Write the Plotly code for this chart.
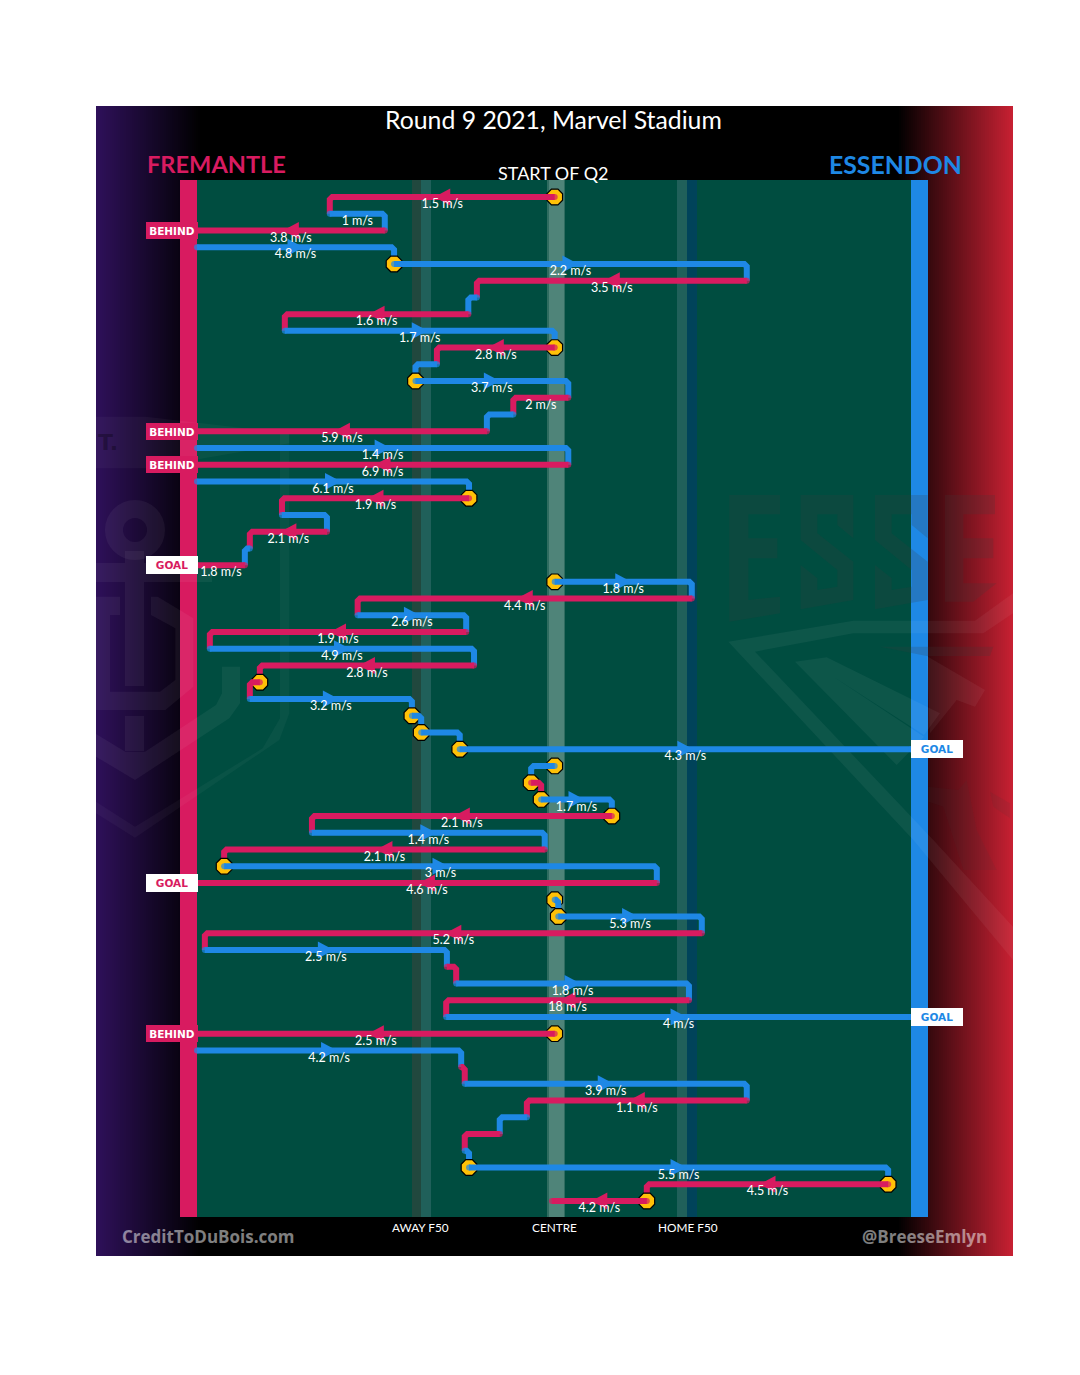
import plotly.graph_objects as go

# ---------- data: one entry per passage of play, top to bottom ----------
# x positions are in percent of the ground, 0 = Fremantle goal, 100 = Essendon goal
teams = list("FEFEEFEFEFEEFEFEFEFEFEFEFEFEFFEEEEEFEFEFEFEEFEFEFEFEFEFEFEEFF")
start_pos = [50.1, 18.6, 26.3, 0, 27.6, 77.0, 39.2, 38.0, 12.3, 50.1, 33.6, 30.6, 52.0, 44.3, 40.6,
             0, 52.0, 0, 38.1, 11.9, 18.2, 7.4, 6.7, 50.1, 69.3, 22.5, 37.7, 1.8, 38.8, 8.8,
             7.4, 30.1, 31.4, 36.8, 50.1, 46.8, 48.2, 58.1, 16.1, 48.7, 3.8, 64.4, 50.1, 50.6, 70.7,
             1.1, 35.0, 36.3, 68.9, 34.9, 50.1, 0, 37.0, 37.5, 77.0, 46.2, 42.4, 37.5, 38.1, 96.8, 63.0]
end_pos = [18.6, 26.3, 0, 27.6, 77.0, 39.2, 38.0, 12.3, 50.1, 33.6, 30.6, 52.0, 44.3, 40.6, 0,
           52.0, 0, 38.1, 11.9, 18.2, 7.4, 6.7, 0, 69.3, 22.5, 37.7, 1.8, 38.8, 8.8, 7.4,
           30.1, 31.4, 36.8, 100, 46.8, 48.2, 58.1, 16.1, 48.7, 3.8, 64.4, 0, 50.6, 70.7, 1.1,
           35.0, 36.3, 68.9, 34.9, 100, 0, 37.0, 37.5, 77.0, 46.2, 42.4, 37.5, 38.1, 96.8, 63.0, 49.7]
speeds = [1.5, 1, 3.8, 4.8, 2.2, 3.5, None, 1.6, 1.7, 2.8, None, 3.7, 2, None, 5.9, 1.4, 6.9, 6.1, 1.9,
          None, 2.1, None, 1.8, 1.8, 4.4, 2.6, 1.9, 4.9, 2.8, None, 3.2, None, None, 4.3, None, None,
          1.7, 2.1, 1.4, 2.1, 3, 4.6, None, 5.3, 5.2, 2.5, None, 1.8, 18, 4, 2.5, 4.2, None, 3.9, 1.1,
          None, None, None, 5.5, 4.5, 4.2]
stoppage_rows = [0, 4, 9, 11, 18, 23, 29, 31, 32, 33, 34, 35, 36, 37, 40, 42, 43, 50, 58, 59, 60]
behind_rows = [2, 14, 16, 50]
goal_rows = [22, 33, 41, 49]
zone_labels = ["AWAY F50", "CENTRE", "HOME F50"]

TITLE = "Round 9 2021, Marvel Stadium"
SUBTITLE = "START OF Q2"
RED, BLUE = "#d81b60", "#1e88e5"
COL = {"F": RED, "E": BLUE}
UI = "Lato"

# ---------- scales: data units <-> page pixels ----------
PX_X0, PX_XS = 197.0, 7.14
PX_Y0, PX_YS = 197.0, 16.733


def fx(px):
    return (px - PX_X0) / PX_XS


def fy(px):
    return (px - PX_Y0) / PX_YS


def rect(x0, x1, y0, y1, color):
    return dict(type="rect", xref="x", yref="y", layer="below", x0=fx(x0), x1=fx(x1), y0=fy(y0), y1=fy(y1),
                fillcolor=color, line=dict(width=0))


def poly(points, ox, oy, color, div=3.0):
    d = "M" + "L".join(f"{fx(ox + a / div):.3f},{fy(oy + b / div):.3f}" for a, b in points) + "Z"
    return dict(type="path", xref="x", yref="y", layer="below", path=d, fillcolor=color, line=dict(width=0))


shapes = [rect(96, 1013, 106, 1256, "#000000")]
# panel gradients
for px in range(96, 200, 2):
    t = 1 - (px - 96) / 104
    shapes.append(rect(px, px + 2.3, 106, 1256, f"rgb({46*t:.0f},{16*t:.0f},{89*t:.0f})"))
for px in range(897, 1013, 2):
    t = min((px - 897) / 114, 1)
    shapes.append(rect(px, min(px + 2.3, 1013), 106, 1256, f"rgb({198*t:.0f},{32*t:.0f},{50*t:.0f})"))
# ground
shapes += [
    rect(197, 911, 180, 1217, "#004d40"),
    rect(412, 421, 180, 1217, "#21483e"),
    rect(421, 431, 180, 1217, "#20605a"),
    rect(547, 565, 180, 1217, "#2f6c60"),
    rect(549, 564, 180, 1217, "#4f8479"),
    rect(677, 687, 180, 1217, "#20605a"),
    rect(687, 697, 180, 1217, "#00435a"),
    rect(180, 197, 180, 1217, RED),
    rect(911, 928, 180, 1217, BLUE),
]
# faint club crests
LT = "rgba(255,255,255,0.05)"
DK = "rgba(60,60,60,0.2)"
DK2 = "rgba(60,60,60,0.1)"
shapes.append(dict(type="circle", xref="x", yref="y", layer="below", x0=fx(114), x1=fx(156), y0=fy(509), y1=fy(551),
                   fillcolor="rgba(0,0,0,0)", line=dict(color=LT, width=18)))
shapes += [rect(125, 144, 551, 563, LT), rect(125, 144, 582, 686, LT), rect(96, 212, 563, 582, LT),
           rect(125, 144, 716, 751, LT)]
shapes.append(poly([(0, 590), (72, 590), (72, 645), (42, 645), (42, 875), (192, 875), (238, 840), (238, 685),
                    (165, 645), (165, 590), (185, 590), (292, 655), (292, 860), (208, 930), (0, 930)], 96, 400, LT))
shapes.append(poly([(378, 20), (432, 20), (432, 130), (400, 175), (117, 360), (0, 290), (0, 222), (88, 275),
                    (147, 275), (360, 135), (378, 100)], 96, 660, LT))
shapes.append(poly([(552, -680), (580, -680), (580, 160), (550, 240), (117, 533), (0, 460), (0, 425), (117, 500),
                    (500, 265), (552, 175)], 96, 660, "rgba(255,255,255,0.035)"))
shapes.append(poly([(0, 50), (150, 50), (580, 100), (580, 130), (150, 205), (0, 205)], 96, 400, "rgba(255,255,255,0.035)"))
letter_e = [(88, 75), (240, 75), (240, 133), (145, 133), (145, 205), (232, 205), (232, 265), (145, 265), (145, 390),
            (240, 380), (240, 430), (88, 455)]
letter_s = [(302, 75), (460, 75), (460, 205), (412, 165), (412, 133), (352, 133), (352, 190), (460, 275), (460, 390),
            (302, 418), (302, 285), (352, 325), (352, 360), (412, 350), (412, 300), (302, 210)]
letter_e2 = [(735, 75), (885, 75), (885, 133), (790, 133), (790, 205), (880, 205), (880, 265), (790, 265), (790, 340),
             (890, 340), (820, 395), (735, 395)]
shapes.append(poly(letter_e, 700, 470, DK))
shapes.append(poly(letter_s, 700, 470, DK))
shapes.append(poly([(a + 223, b) for a, b in letter_s], 700, 470, DK))
shapes.append(poly(letter_e2, 700, 470, DK))
shapes.append(poly([(85, 515), (460, 452), (825, 452), (939, 370), (939, 430), (850, 490), (460, 490), (165, 545),
                    (700, 1110), (939, 1370), (939, 1470), (640, 1110)], 700, 470, LT))
shapes.append(poly([(285, 575), (380, 562), (720, 730), (672, 795), (400, 620), (672, 800), (590, 885)], 700, 470, LT))
shapes.append(poly([(540, 530), (880, 530), (870, 558), (680, 558)], 700, 470, DK))
shapes.append(poly([(680, 558), (855, 660), (825, 710), (770, 690), (690, 790)], 700, 470, LT))
shapes.append(poly([(685, 950), (775, 960), (800, 930), (830, 1080), (890, 1200), (790, 1200), (730, 1010), (685, 995)],
                   700, 470, DK2))
shapes.append(poly([(870, 965), (930, 1000), (930, 1045), (880, 1010)], 700, 470, DK2))

# ---------- marks ----------
fig = go.Figure()
n = len(teams)
ended = set(goal_rows) | set(behind_rows)
CUT = 2.5  # corner chamfer, in pixels

for i in range(n):
    c = COL[teams[i]]
    if i in stoppage_rows:
        fig.add_trace(go.Scatter(x=[start_pos[i]], y=[i], mode="markers", hoverinfo="skip",
                                 marker=dict(symbol="octagon", size=17, color="#ffc107",
                                             line=dict(color="#000000", width=1.2))))
    d = 1 if end_pos[i] > start_pos[i] else -1
    xs, ys = [start_pos[i], end_pos[i]], [i, i]
    sizes = [6, 6]
    if i not in ended and i < n - 1:
        cut_x = CUT / PX_XS
        if abs(end_pos[i] - start_pos[i]) > cut_x:
            xs[-1] = end_pos[i] - d * cut_x
        xs += [end_pos[i], end_pos[i]]
        ys += [i + CUT / PX_YS, i + 1]
        sizes = [6, 0, 0, 0]
    fig.add_trace(go.Scatter(x=xs, y=ys, mode="lines+markers", hoverinfo="skip",
                             line=dict(color=c, width=6),
                             marker=dict(size=sizes, color=c, line=dict(width=0))))
    span_px = abs(end_pos[i] - start_pos[i]) * PX_XS
    if speeds[i] is not None and span_px > 60:
        mid = (start_pos[i] + end_pos[i]) / 2
        hw, hh = 8 / PX_XS, 8.5 / PX_YS
        fig.add_trace(go.Scatter(x=[mid - d * hw, mid + d * hw, mid - d * hw, mid - d * hw],
                                 y=[i - hh, i, i + hh, i - hh],
                                 mode="lines", fill="toself", fillcolor=c, hoverinfo="skip",
                                 line=dict(color=c, width=0)))

lab = [i for i in range(n) if speeds[i] is not None]
fig.add_trace(go.Scatter(x=[(start_pos[i] + end_pos[i]) / 2 for i in lab], y=[i + 8 / PX_YS for i in lab],
                         text=[f"{speeds[i]} m/s" for i in lab], mode="text", hoverinfo="skip",
                         textposition="middle center",
                         textfont=dict(family=UI, size=12.5, color="#ffffff")))


def note(px, py, text, size, color, family=UI, bold=False, anchor="center", **kw):
    return dict(x=fx(px), y=fy(py), xref="x", yref="y", text=f"<b>{text}</b>" if bold else text, showarrow=False,
                xanchor=anchor, yanchor="middle", font=dict(family=family, size=size, color=color), **kw)


ann = [
    note(553.5, 119.5, TITLE, 24.8, "#ffffff"),
    note(553.5, 172.5, SUBTITLE, 18, "#ffffff"),
    note(216, 164, "FREMANTLE", 23.6, RED, bold=True),
    note(895.5, 164, "ESSENDON", 24.8, BLUE, bold=True),
    note(208, 1236.5, "CreditToDuBois.com", 17, "rgba(255,255,255,0.5)", family="Open Sans", bold=True),
    note(924.5, 1236.5, "@BreeseEmlyn", 17, "rgba(255,255,255,0.5)", family="Open Sans", bold=True),
    note(96, 442, "T.", 22, "rgba(0,0,0,0.3)", family="DejaVu Sans", bold=True, anchor="left"),
]
for xpos, t in zip([420, 554.5, 687.5], zone_labels):
    ann.append(note(xpos, 1227, t, 11.8, "#ffffff"))
for r in behind_rows:
    ann.append(dict(x=fx(172), y=r, xref="x", yref="y", text="<b>BEHIND</b>", showarrow=False, width=52, height=17,
                    borderpad=0, borderwidth=0, bgcolor=RED,
                    font=dict(family="DejaVu Sans", size=10.5, color="#ffffff"),
                    xanchor="center", yanchor="middle"))
for r in goal_rows:
    side = 937 if teams[r] == "E" else 172
    ann.append(dict(x=fx(side), y=r, xref="x", yref="y", text="<b>GOAL</b>", showarrow=False, width=52, height=18,
                    borderpad=0, borderwidth=0, bgcolor="#ffffff",
                    font=dict(family="DejaVu Sans", size=10.5, color=COL[teams[r]]),
                    xanchor="center", yanchor="middle"))

fig.update_layout(
    width=1080, height=1375, autosize=False, showlegend=False,
    margin=dict(l=0, r=0, t=0, b=0, pad=0),
    paper_bgcolor="#ffffff", plot_bgcolor="#ffffff",
    xaxis=dict(visible=False, range=[fx(0), fx(1080)], fixedrange=True),
    yaxis=dict(visible=False, range=[fy(1375), fy(0)], fixedrange=True),
    shapes=shapes, annotations=ann,
)
fig.write_html("out.html", config=dict(displayModeBar=False),
               post_script="document.body.style.margin='0';document.body.style.overflow='hidden';")
